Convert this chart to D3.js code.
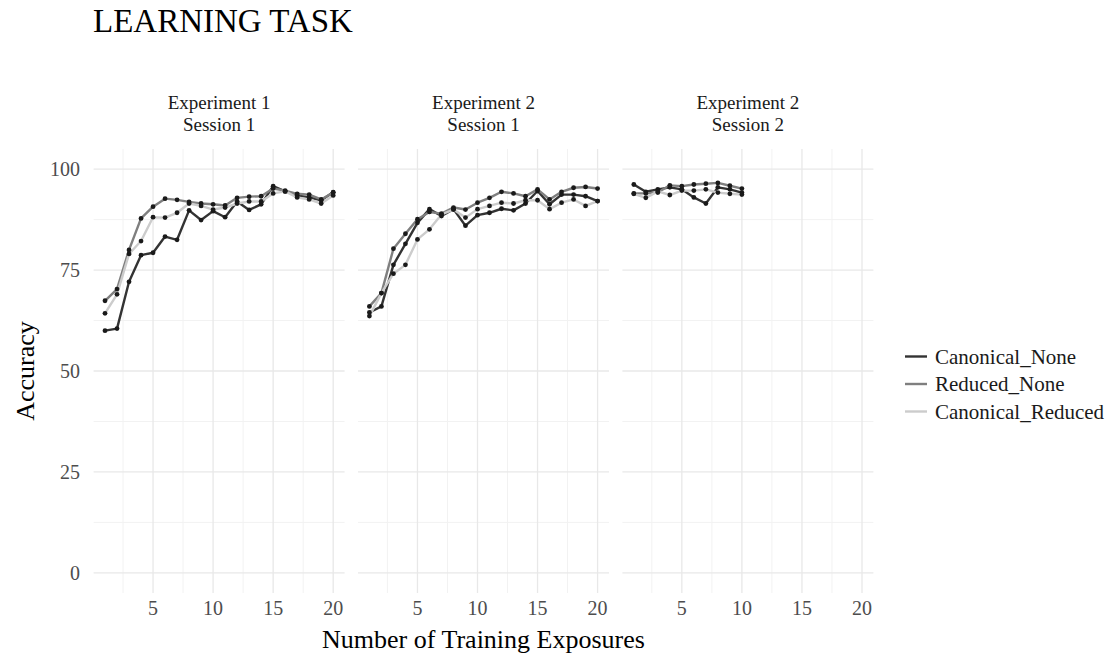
<!DOCTYPE html>
<html>
<head>
<meta charset="utf-8">
<script src="https://cdn.jsdelivr.net/npm/d3@7/dist/d3.min.js"></script>
<style>
  body { margin: 0; background: #fff; }
  svg { display: block; font-family: "Liberation Serif", "Times New Roman", serif; }
</style>
</head>
<body>
<svg id="chart" width="1109" height="659"></svg>
<script>
// Facet panels
const panels = [
  { key: "e1s1", line1: "Experiment 1", line2: "Session 1" },
  { key: "e2s1", line1: "Experiment 2", line2: "Session 1" },
  { key: "e2s2", line1: "Experiment 2", line2: "Session 2" }
];

// Series names (legend order)
const seriesNames = ["Canonical_None", "Reduced_None", "Canonical_Reduced"];
const seriesColors = ["#333333", "#7f7f7f", "#cccccc"];

// Mean accuracy per training exposure
const e1s1_CanonicalNone    = [60.0, 60.5, 72.1, 78.7, 79.3, 83.3, 82.5, 89.8, 87.4, 89.6, 88.1, 92.0, 89.9, 91.3, 95.8, 94.5, 93.5, 93.0, 92.3, 94.3];
const e1s1_ReducedNone      = [67.4, 70.3, 80.0, 87.8, 90.7, 92.7, 92.4, 91.9, 91.5, 91.3, 91.0, 92.9, 93.2, 93.3, 95.2, 94.7, 93.9, 93.7, 92.5, 94.2];
const e1s1_CanonicalReduced = [64.3, 69.0, 79.0, 82.2, 88.1, 88.0, 89.2, 91.5, 90.9, 90.0, 90.5, 91.5, 92.0, 92.0, 94.0, 94.5, 93.0, 92.5, 91.5, 93.5];

const e2s1_CanonicalNone    = [64.5, 66.0, 76.3, 81.5, 86.7, 90.1, 88.4, 90.1, 86.0, 88.6, 89.2, 90.2, 89.8, 91.5, 94.6, 91.3, 93.7, 93.7, 93.3, 92.1];
const e2s1_ReducedNone      = [66.0, 69.3, 80.3, 84.0, 87.6, 89.4, 89.0, 90.5, 90.0, 91.7, 92.9, 94.4, 94.0, 93.3, 95.0, 92.5, 94.4, 95.4, 95.6, 95.2];
const e2s1_CanonicalReduced = [63.6, 69.3, 74.1, 76.3, 82.6, 85.1, 88.8, 90.0, 88.0, 90.1, 90.9, 91.7, 91.5, 92.3, 92.3, 90.1, 91.7, 92.5, 90.9, 92.1];

const e2s2_CanonicalNone    = [96.2, 94.4, 95.0, 95.5, 95.0, 93.0, 91.5, 95.5, 95.0, 94.2];
const e2s2_ReducedNone      = [94.0, 94.0, 94.2, 96.0, 95.8, 96.2, 96.4, 96.6, 95.9, 95.2];
const e2s2_CanonicalReduced = [93.9, 92.9, 94.5, 93.6, 94.7, 94.7, 95.0, 94.2, 93.9, 93.7];

const panelSeries = {
  e1s1: [e1s1_CanonicalNone, e1s1_ReducedNone, e1s1_CanonicalReduced],
  e2s1: [e2s1_CanonicalNone, e2s1_ReducedNone, e2s1_CanonicalReduced],
  e2s2: [e2s2_CanonicalNone, e2s2_ReducedNone, e2s2_CanonicalReduced]
};

// Axis breaks
const xTicks = [5, 10, 15, 20];
const xMinor = [2.5, 7.5, 12.5, 17.5];
const yTicks = [0, 25, 50, 75, 100];
const yMinor = [12.5, 37.5, 62.5, 87.5];

const svg = d3.select("#chart");

// Layout
const panelW = 251;
const panelGap = 13.4;
const panelTop = 149;
const panelBottom = 593;
const firstLeft = 93.6;

const y = d3.scaleLinear().domain([-5, 105]).range([panelBottom, panelTop]);

// Title
svg.append("text")
  .attr("x", 93).attr("y", 32)
  .attr("font-size", 33).attr("fill", "#000")
  .text("LEARNING TASK");

panels.forEach((p, pi) => {
  const left = firstLeft + pi * (panelW + panelGap);
  const x = d3.scaleLinear().domain([0.05, 20.95]).range([left, left + panelW]);
  const g = svg.append("g");

  // minor grid
  g.selectAll(".ymin").data(yMinor).join("line")
    .attr("x1", left).attr("x2", left + panelW)
    .attr("y1", d => y(d)).attr("y2", d => y(d))
    .attr("stroke", "#f2f2f2").attr("stroke-width", 1);
  g.selectAll(".xmin").data(xMinor).join("line")
    .attr("y1", panelTop).attr("y2", panelBottom)
    .attr("x1", d => x(d)).attr("x2", d => x(d))
    .attr("stroke", "#f2f2f2").attr("stroke-width", 1);
  // major grid
  g.selectAll(".ymaj").data(yTicks).join("line")
    .attr("x1", left).attr("x2", left + panelW)
    .attr("y1", d => y(d)).attr("y2", d => y(d))
    .attr("stroke", "#e8e8e8").attr("stroke-width", 1.3);
  g.selectAll(".xmaj").data(xTicks).join("line")
    .attr("y1", panelTop).attr("y2", panelBottom)
    .attr("x1", d => x(d)).attr("x2", d => x(d))
    .attr("stroke", "#e8e8e8").attr("stroke-width", 1.3);

  // strip labels
  const cx = left + panelW / 2;
  const strip = g.append("text").attr("text-anchor", "middle")
    .attr("font-size", 19).attr("fill", "#1a1a1a");
  strip.append("tspan").attr("x", cx).attr("y", 109).text(p.line1);
  strip.append("tspan").attr("x", cx).attr("y", 131).text(p.line2);

  // x tick labels
  g.selectAll(".xt").data(xTicks).join("text")
    .attr("x", d => x(d)).attr("y", 615)
    .attr("text-anchor", "middle").attr("font-size", 20).attr("fill", "#4d4d4d")
    .text(d => d);

  // y tick labels on first panel only
  if (pi === 0) {
    g.selectAll(".yt").data(yTicks).join("text")
      .attr("x", 80).attr("y", d => y(d) + 7)
      .attr("text-anchor", "end").attr("font-size", 20).attr("fill", "#4d4d4d")
      .text(d => d);
  }

  const line = d3.line().x((d, i) => x(i + 1)).y(d => y(d));
  const seriesList = panelSeries[p.key];
  seriesList.forEach((vals, si) => {
    g.append("path").datum(vals)
      .attr("d", line)
      .attr("fill", "none")
      .attr("stroke", seriesColors[si])
      .attr("stroke-width", 2.4)
      .attr("stroke-linejoin", "round");
  });
  seriesList.forEach((vals) => {
    g.selectAll(null).data(vals).join("circle")
      .attr("cx", (d, i) => x(i + 1)).attr("cy", d => y(d))
      .attr("r", 2.4).attr("fill", "#1a1a1a");
  });
});

// axis titles
svg.append("text")
  .attr("x", (firstLeft + firstLeft + 3 * panelW + 2 * panelGap) / 2)
  .attr("y", 648).attr("text-anchor", "middle")
  .attr("font-size", 26).attr("fill", "#000")
  .text("Number of Training Exposures");
svg.append("text")
  .attr("transform", `translate(34, ${(panelTop + panelBottom) / 2}) rotate(-90)`)
  .attr("text-anchor", "middle")
  .attr("font-size", 26).attr("fill", "#000")
  .text("Accuracy");

// legend
const legend = svg.append("g");
seriesNames.forEach((name, i) => {
  const ly = 356.5 + i * 27.5;
  legend.append("line")
    .attr("x1", 905).attr("x2", 927).attr("y1", ly).attr("y2", ly)
    .attr("stroke", seriesColors[i]).attr("stroke-width", 2.4);
  legend.append("text")
    .attr("x", 935).attr("y", ly + 7)
    .attr("font-size", 21).attr("fill", "#1a1a1a")
    .text(name);
});
</script>
</body>
</html>
